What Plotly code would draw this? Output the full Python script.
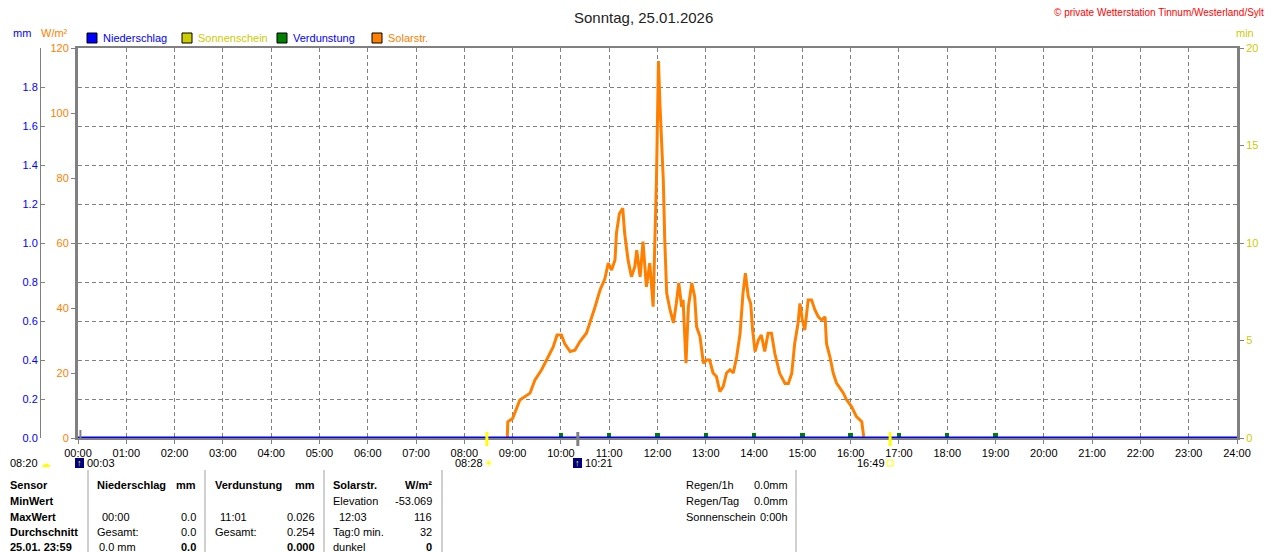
import plotly.graph_objs as go

# Seite hat 8px body-Rand -> Figur etwas kleiner, Koordinaten verschoben
W, H = 1272, 544
OFF = 8

# --- data ---
hours = list(range(0, 25))
hour_labels = [f'{h:02d}:00' for h in hours]

# Solarstrahlung (W/m²), Zeit in Stunden
solar_time = [8.89, 8.90, 9.00, 9.15, 9.36, 9.46, 9.60, 9.73, 9.84, 9.92, 10.01, 10.08, 10.19, 10.29,
              10.39, 10.53, 10.60, 10.70, 10.81, 10.91, 10.98, 11.05, 11.12, 11.15, 11.21, 11.28, 11.32,
              11.39, 11.46, 11.53, 11.57, 11.64, 11.70, 11.77, 11.84, 11.91, 11.98, 12.02, 12.05, 12.08,
              12.12, 12.15, 12.19, 12.26, 12.33, 12.39, 12.44, 12.50, 12.53, 12.59, 12.64, 12.71, 12.77,
              12.81, 12.88, 12.95, 13.02, 13.08, 13.15, 13.22, 13.29, 13.36, 13.43, 13.50, 13.57, 13.64,
              13.71, 13.77, 13.82, 13.88, 13.93, 13.97, 14.02, 14.09, 14.15, 14.22, 14.29, 14.36, 14.43,
              14.53, 14.64, 14.71, 14.78, 14.84, 14.91, 14.95, 15.00, 15.05, 15.12, 15.19, 15.26, 15.33,
              15.40, 15.47, 15.50, 15.57, 15.64, 15.71, 15.78, 15.85, 15.91, 16.02, 16.12, 16.23, 16.27]
solar_wm2 = [0, 5, 6, 11.7, 13.8, 17.8, 21, 25, 28, 31.7, 31.7, 29, 26.6, 27,
             29.6, 32.3, 35.4, 40, 45.5, 49, 53.8, 51.7, 54.8, 63, 69, 70.7, 63,
             54.8, 49.6, 52.7, 57.8, 49.6, 60.4, 46.5, 53.8, 40.4, 80.4, 116, 103, 91.7,
             79.4, 61, 44.6, 39.4, 35.4, 41.5, 47.7, 40.4, 42.5, 23, 40.4, 47.7, 43.5,
             34.2, 31.2, 23, 24, 24, 20, 18.9, 14.3, 15.8, 20, 21, 20, 25,
             32.2, 44.5, 50.7, 43.5, 41.4, 33.2, 26.6, 30.2, 31.7, 26.6, 32.2, 32.2, 26,
             19.9, 16.8, 16.8, 19.9, 29, 35.3, 41.4, 36.3, 33.2, 42.5, 42.5, 39.4, 37.3,
             36.3, 37.3, 29, 25, 19.9, 16.8, 15.3, 13.8, 11.9, 9.6, 6.6, 5, 0.4]

# Niederschlag (mm)
rain_time = [0, 24]
rain_mm = [0.0, 0.0]

# Verdunstung (mm) pro Stunde
evap_time = [10, 11, 12, 13, 14, 15, 16, 17, 18, 19]
evap_mm = [0.025, 0.026, 0.026, 0.025, 0.025, 0.026, 0.025, 0.026, 0.025, 0.025]

# Ereignisse unter der Zeitachse
sunrise, sunset, evap_max_time = '08:28', '16:49', '10:21'

GREY = '#808080'
ORANGE = '#ff8000'
BLUE = '#0000ff'
YELLOW = '#cccc00'
FONT = 'Liberation Sans'


def px(x):
    return (x - OFF) / W


def py(y):
    return 1 - (y - OFF) / H


def to_h(s):
    hh, mm = s.split(':')
    return int(hh) + int(mm) / 60


fig = go.Figure()

fig.add_trace(go.Bar(x=evap_time, y=evap_mm, yaxis='y2', width=0.09,
                     marker=dict(color='#008000', line=dict(width=0))))
fig.add_trace(go.Scatter(x=solar_time, y=solar_wm2, mode='lines', yaxis='y',
                         line=dict(color=ORANGE, width=3)))
fig.add_trace(go.Scatter(x=rain_time, y=rain_mm, mode='lines', yaxis='y2',
                         line=dict(color=BLUE, width=3)))
# unsichtbar, damit die rechte Achse gezeichnet wird
fig.add_trace(go.Scatter(x=[0], y=[0], yaxis='y3', mode='markers', marker=dict(opacity=0),
                         hoverinfo='skip'))

dash = '4px,3px'
fig.update_layout(
    width=W, height=H,
    margin=dict(l=0, r=0, t=0, b=0, autoexpand=False),
    paper_bgcolor='white', plot_bgcolor='white',
    showlegend=False,
    font=dict(family=FONT, size=11, color='black'),
    xaxis=dict(domain=[px(78), px(1237)], range=[0, 24], tickvals=hours, ticktext=hour_labels,
               showgrid=True, gridcolor=GREY, griddash=dash, gridwidth=1, automargin=False,
               showline=True, linecolor=GREY, linewidth=2, mirror=True, layer='below traces',
               ticks='outside', ticklen=4, tickcolor=GREY, zeroline=False,
               tickfont=dict(family=FONT, size=11, color='black')),
    yaxis=dict(domain=[py(438), py(48)], range=[0, 120], tickvals=[0, 20, 40, 60, 80, 100, 120],
               showgrid=False, zeroline=False, showline=True, linecolor=GREY, linewidth=3,
               ticks='outside', ticklen=4, tickcolor=GREY, automargin=False,
               tickfont=dict(family=FONT, size=11, color=ORANGE)),
    yaxis2=dict(overlaying='y', anchor='free', position=px(40), side='left', range=[0, 2],
                tickvals=[0, 0.2, 0.4, 0.6, 0.8, 1.0, 1.2, 1.4, 1.6, 1.8],
                ticktext=['0.0', '0.2', '0.4', '0.6', '0.8', '1.0', '1.2', '1.4', '1.6', '1.8'],
                showgrid=True, gridcolor=GREY, griddash=dash, gridwidth=1, zeroline=False,
                showline=True, linecolor=GREY, linewidth=1, automargin=False, layer='below traces',
                ticks='inside', ticklen=4, tickcolor=GREY,
                tickfont=dict(family=FONT, size=11, color=BLUE)),
    yaxis3=dict(overlaying='y', anchor='x', side='right', range=[0, 20], tickvals=[0, 5, 10, 15, 20],
                showgrid=False, zeroline=False, showline=True, linecolor=GREY, linewidth=3,
                ticks='outside', ticklen=4, tickcolor=GREY, automargin=False,
                tickfont=dict(family=FONT, size=11, color=YELLOW)),
)

ann = []
shapes = []


def text(x, y, s, color='black', anchor='left', bold=False, size=11):
    ann.append(dict(x=px(x), y=py(y), xref='paper', yref='paper', text=f'<b>{s}</b>' if bold else s,
                    showarrow=False, xanchor=anchor, yanchor='middle',
                    font=dict(family=FONT, size=size, color=color)))


# Titel / Kopf
text(643, 17, 'Sonntag, 25.01.2026', color='#222222', anchor='center', size=15)
text(1266, 13, '© private Wetterstation Tinnum/Westerland/Sylt', color='#ff0000', anchor='right', size=10)
text(22, 33, 'mm', color=BLUE, anchor='center')
text(54, 33, 'W/m²', color=ORANGE, anchor='center')
text(1245, 33, 'min', color=YELLOW, anchor='center')

# Legende
legend_items = [('Niederschlag', BLUE, BLUE, 87), ('Sonnenschein', YELLOW, YELLOW, 182),
                ('Verdunstung', '#008000', BLUE, 277), ('Solarstr.', ORANGE, ORANGE, 372)]
for name, fill, tcol, lx in legend_items:
    shapes.append(dict(type='rect', xref='paper', yref='paper', x0=px(lx), x1=px(lx + 10),
                       y0=py(43), y1=py(33), fillcolor=fill, line=dict(color='black', width=1)))
    text(lx + 14, 38, name, color=tcol)

# Markierungen an der Zeitachse
for t, col in [(sunrise, '#ffff00'), (evap_max_time, GREY), (sunset, '#ffff00')]:
    shapes.append(dict(type='line', xref='x', yref='paper', x0=to_h(t), x1=to_h(t),
                       y0=py(446), y1=py(432), line=dict(color=col, width=3)))
shapes.append(dict(type='line', xref='x', yref='paper', x0=0.05, x1=0.05,
                   y0=py(438), y1=py(430), line=dict(color=GREY, width=2)))

# Symbole und Zeiten unter der Achse
text(8, 463, '08:20')
text(39, 463, '☁', color='#ffff00', size=10)
shapes.append(dict(type='rect', xref='paper', yref='paper', x0=px(75), x1=px(84), y0=py(468), y1=py(458),
                   fillcolor='#000080', line=dict(width=0)))
text(79.5, 463, '↑', color='#ffff00', anchor='center', size=9)
text(85, 463, '00:03')
text(453, 463, sunrise)
text(482, 463, '☀', color='#ffff00', size=11)
shapes.append(dict(type='rect', xref='paper', yref='paper', x0=px(573), x1=px(582), y0=py(468), y1=py(458),
                   fillcolor='#000080', line=dict(width=0)))
text(577.5, 463, '↑', color='#ffff00', anchor='center', size=9)
text(583, 463, evap_max_time)
text(855, 463, sunset)
shapes.append(dict(type='rect', xref='paper', yref='paper', x0=px(887), x1=px(893), y0=py(466), y1=py(460),
                   line=dict(color='#ffff00', width=1)))

# Tabellen-Trennlinien
for sx in [88, 205, 324, 442, 796]:
    shapes.append(dict(type='line', xref='paper', yref='paper', x0=px(sx), x1=px(sx),
                       y0=py(470), y1=py(552), line=dict(color='#a0a0a0', width=1)))

# Tabelle
rows = [485, 501, 517, 532, 547]
for i, lab in enumerate(['Sensor', 'MinWert', 'MaxWert', 'Durchschnitt', '25.01. 23:59']):
    text(8, rows[i], lab, bold=True)
text(95, rows[0], 'Niederschlag', bold=True)
text(198, rows[0], 'mm', anchor='right', bold=True)
text(213, rows[0], 'Verdunstung', bold=True)
text(317, rows[0], 'mm', anchor='right', bold=True)
text(331, rows[0], 'Solarstr.', bold=True)
text(434, rows[0], 'W/m²', anchor='right', bold=True)

text(331, rows[1], 'Elevation')
text(434, rows[1], '-53.069', anchor='right')

text(100, rows[2], '00:00')
text(198, rows[2], '0.0', anchor='right')
text(218, rows[2], '11:01')
text(317, rows[2], '0.026', anchor='right')
text(337, rows[2], '12:03')
text(434, rows[2], '116', anchor='right')

text(95, rows[3], 'Gesamt:')
text(198, rows[3], '0.0', anchor='right')
text(213, rows[3], 'Gesamt:')
text(317, rows[3], '0.254', anchor='right')
text(331, rows[3], 'Tag:0 min.')
text(434, rows[3], '32', anchor='right')

text(97, rows[4], '0.0 mm')
text(198, rows[4], '0.0', anchor='right', bold=True)
text(317, rows[4], '0.000', anchor='right', bold=True)
text(331, rows[4], 'dunkel')
text(434, rows[4], '0', anchor='right', bold=True)

text(684, rows[0], 'Regen/1h')
text(790, rows[0], '0.0mm', anchor='right')
text(684, rows[1], 'Regen/Tag')
text(790, rows[1], '0.0mm', anchor='right')
text(684, rows[2], 'Sonnenschein')
text(790, rows[2], '0:00h', anchor='right')

fig.update_layout(annotations=ann, shapes=shapes, bargap=0)

fig.write_html('out.html', config={'displayModeBar': False})
